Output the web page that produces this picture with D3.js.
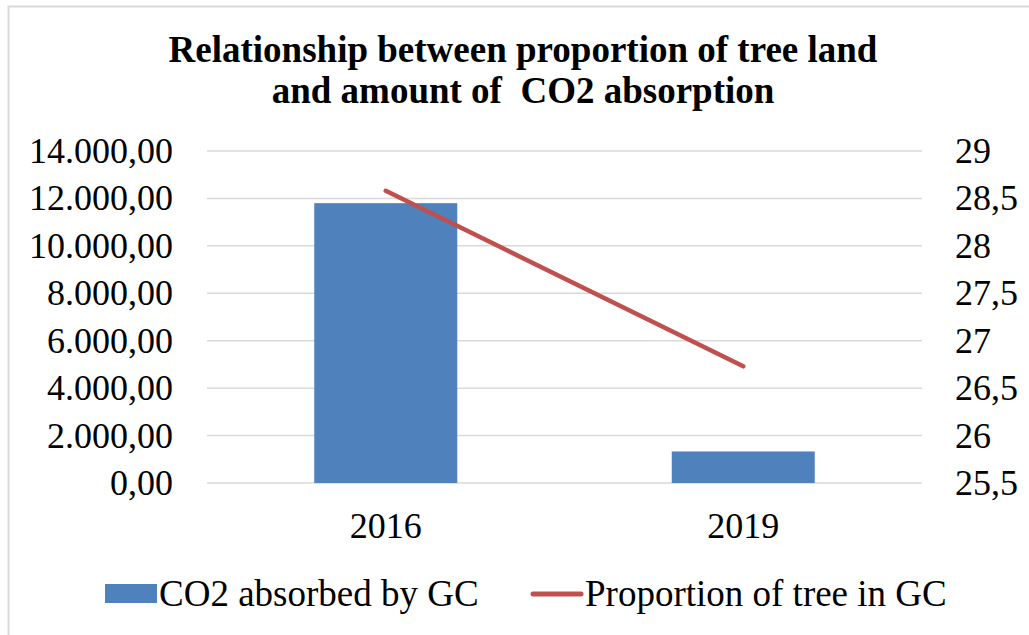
<!DOCTYPE html>
<html>
<head>
<meta charset="utf-8">
<script src="https://cdn.jsdelivr.net/npm/d3@7"></script>
<style>
  body { margin: 0; background: #fff; }
  text { font-family: "Liberation Serif", "Times New Roman", serif; fill: #000; }
</style>
</head>
<body>
<svg width="1029" height="635"></svg>
<script>
// chart data
var years = ["2016", "2019"];
var co2Absorbed = [11800, 1330];
var treeProportion = [28.58, 26.73];
var leftTicks = [0, 2000, 4000, 6000, 8000, 10000, 12000, 14000];
var rightTicks = [25.5, 26, 26.5, 27, 27.5, 28, 28.5, 29];

var svg = d3.select("svg");

// outer frame of the chart area
svg.append("rect")
    .attr("x", 8.5).attr("y", 6.5)
    .attr("width", 1030).attr("height", 640)
    .attr("fill", "none")
    .attr("stroke", "#d9d9d9")
    .attr("stroke-width", 2);

// plot area bounds
var plotLeft = 207, plotRight = 922, plotTop = 151, plotBottom = 483;

var x = d3.scaleBand()
    .domain(years)
    .range([plotLeft, plotRight])
    .paddingInner(0.6)
    .paddingOuter(0.3);

var y = d3.scaleLinear().domain([0, 14000]).range([plotBottom, plotTop]);
var y2 = d3.scaleLinear().domain([25.5, 29]).range([plotBottom, plotTop]);

// number format with dot thousands and comma decimals
var locale = d3.formatLocale({ decimal: ",", thousands: ".", grouping: [3], currency: ["", ""] });
var fmtLeft = locale.format(",.2f");
var fmtRight = function(d) { return String(d).replace(".", ","); };

// gridlines
svg.append("g")
  .selectAll("line")
  .data(leftTicks)
  .enter().append("line")
    .attr("x1", plotLeft).attr("x2", plotRight)
    .attr("y1", function(d) { return y(d); })
    .attr("y2", function(d) { return y(d); })
    .attr("stroke", "#d9d9d9")
    .attr("stroke-width", 1.5);

// left axis
var gl = svg.append("g")
    .attr("transform", "translate(" + plotLeft + ",0)")
    .call(d3.axisLeft(y).tickValues(leftTicks).tickFormat(fmtLeft).tickSize(0).tickPadding(34));
gl.select(".domain").remove();
gl.attr("font-family", null).attr("font-size", null);
gl.selectAll("text").style("font-size", "36px");

// right axis
var gr = svg.append("g")
    .attr("transform", "translate(" + plotRight + ",0)")
    .call(d3.axisRight(y2).tickValues(rightTicks).tickFormat(fmtRight).tickSize(0).tickPadding(33));
gr.select(".domain").remove();
gr.attr("font-family", null).attr("font-size", null);
gr.selectAll("text").style("font-size", "36px");

// bottom axis
var gb = svg.append("g")
    .attr("transform", "translate(0," + plotBottom + ")")
    .call(d3.axisBottom(x).tickSize(0).tickPadding(29));
gb.select(".domain").remove();
gb.attr("font-family", null).attr("font-size", null);
gb.selectAll("text").style("font-size", "36px");

// bars
svg.append("g")
  .selectAll("rect")
  .data(years)
  .enter().append("rect")
    .attr("x", function(d) { return x(d); })
    .attr("width", x.bandwidth())
    .attr("y", function(d, i) { return y(co2Absorbed[i]); })
    .attr("height", function(d, i) { return plotBottom - y(co2Absorbed[i]); })
    .attr("fill", "#4f81bd");

// line
var line = d3.line()
    .x(function(d, i) { return x(years[i]) + x.bandwidth() / 2; })
    .y(function(d) { return y2(d); });

svg.append("path")
    .datum(treeProportion)
    .attr("d", line)
    .attr("fill", "none")
    .attr("stroke", "#c0504d")
    .attr("stroke-width", 4.5)
    .attr("stroke-linecap", "round");

// title
var title = svg.append("text")
    .attr("text-anchor", "middle")
    .style("font-size", "37px")
    .style("font-weight", "bold");
title.append("tspan").attr("x", 523).attr("y", 62).text("Relationship between proportion of tree land");
title.append("tspan").attr("x", 523).attr("y", 103).text("and amount of\u00a0 CO2 absorption");

// legend
var lg = svg.append("g");
lg.append("rect")
    .attr("x", 105).attr("y", 584)
    .attr("width", 52).attr("height", 19)
    .attr("fill", "#4f81bd");
lg.append("text")
    .attr("x", 159).attr("y", 606)
    .style("font-size", "37px")
    .text("CO2 absorbed by GC");
lg.append("line")
    .attr("x1", 533).attr("x2", 581)
    .attr("y1", 594).attr("y2", 594)
    .attr("stroke", "#c0504d")
    .attr("stroke-width", 5)
    .attr("stroke-linecap", "round");
lg.append("text")
    .attr("x", 585).attr("y", 606)
    .style("font-size", "37px")
    .text("Proportion of tree in GC");
</script>
</body>
</html>
